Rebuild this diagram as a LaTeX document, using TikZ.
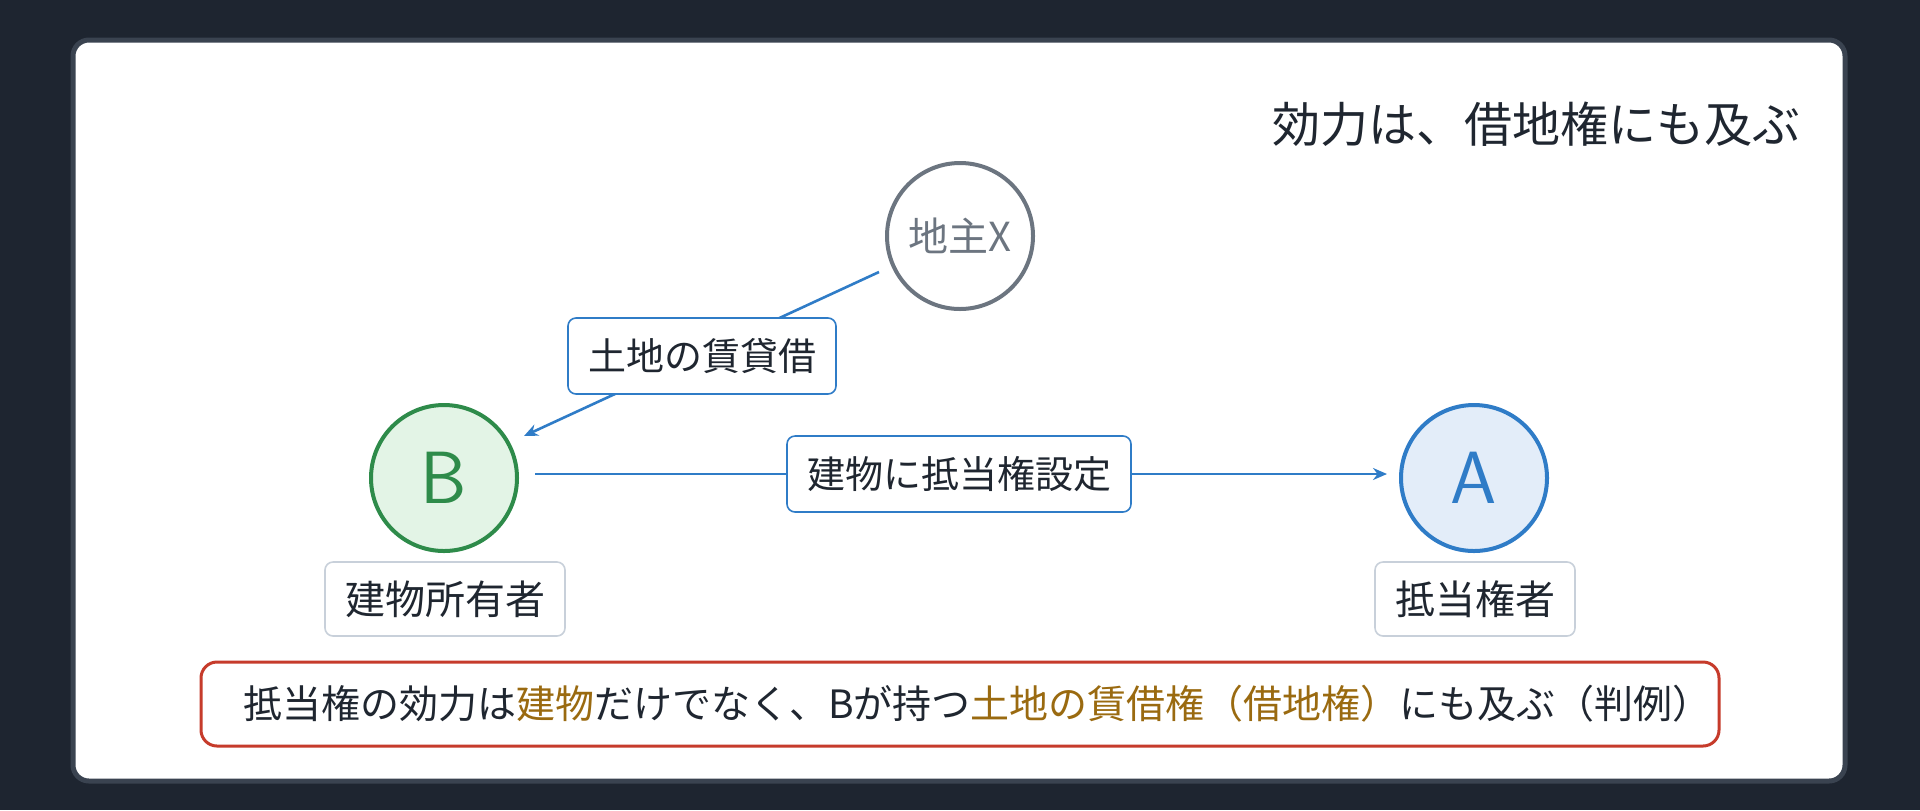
\documentclass[tikz,border=0pt]{standalone}
\usepackage{fontspec}
\setmainfont{Noto Sans CJK JP}
\usetikzlibrary{arrows.meta}
\definecolor{bgdark}{HTML}{1E2530}
\definecolor{cardedge}{HTML}{3A4350}
\definecolor{ink}{HTML}{1F2630}
\definecolor{xgray}{HTML}{6C7580}
\definecolor{bgreen}{HTML}{2E8B4A}
\definecolor{bgreenfill}{HTML}{E3F4E6}
\definecolor{ablue}{HTML}{2F7CC7}
\definecolor{abluefill}{HTML}{E3EDF9}
\definecolor{tagedge}{HTML}{C8D0DA}
\definecolor{noteedge}{HTML}{C63B2B}
\definecolor{hilite}{HTML}{9A6A10}
\tikzset{
    party/.style={circle, minimum size=73pt, line width=2pt, inner sep=0pt},
    tag/.style={draw=tagedge, fill=white, rounded corners=4pt, line width=0.8pt,
        text=ink, font=\fontsize{20}{24}\selectfont, minimum height=37pt, inner xsep=10pt},
    rel/.style={draw=ablue, fill=white, rounded corners=4pt, line width=0.8pt,
        text=ink, font=\fontsize{19}{23}\selectfont, minimum height=38pt, inner xsep=10pt},
    link/.style={draw=ablue, line width=1.3pt, -{Stealth[length=7pt,width=6pt]}}
}
\begin{document}
\begin{tikzpicture}[x=0.5pt, y=-0.5pt]
    \useasboundingbox (0,0) rectangle (1920,810);
    \fill[bgdark] (0,0) rectangle (1920,810);
    \draw[cardedge, fill=white, line width=2.5pt, rounded corners=8pt] (73,40) rectangle (1845,781);
    % title
    \node[anchor=east, text=ink, font=\fontsize{24}{28}\selectfont] (title) at (1808,124) {効力は、借地権にも及ぶ};
    % parties
    \node[party, draw=xgray, fill=white, text=xgray, font=\fontsize{20}{24}\selectfont] (X) at (960,236) {地主X};
    \node[party, draw=bgreen, fill=bgreenfill, text=bgreen, font=\fontsize{37}{40}\selectfont\sffamily] (B) at (444,478) {B};
    \node[party, draw=ablue, fill=abluefill, text=ablue, font=\fontsize{37}{40}\selectfont\sffamily] (A) at (1474,478) {A};
    \node[tag] (Blab) at (445,599) {建物所有者};
    \node[tag] (Alab) at (1475,599) {抵当権者};
    % relations
    \coordinate (Xs) at (879,272);
    \coordinate (Be) at (524,436);
    \coordinate (Bs) at (535,474);
    \coordinate (Ae) at (1387,474);
    \draw[link] (Xs) -- (Be);
    \draw[link] (Bs) -- (Ae);
    \node[rel] (lease) at (702,356) {土地の賃貸借};
    \node[rel] (mort) at (959,474) {建物に抵当権設定};
    % note
    \draw[noteedge, fill=white, line width=1.5pt, rounded corners=8pt] (201,662) rectangle (1719,746);
    \node[anchor=west, text=ink, font=\fontsize{19.5}{23}\selectfont] (note) at (236,704)
        {抵当権の効力は\textcolor{hilite}{建物}だけでなく、Bが持つ\textcolor{hilite}{土地の賃借権（借地権）}にも及ぶ（判例）};
\end{tikzpicture}
\end{document}
